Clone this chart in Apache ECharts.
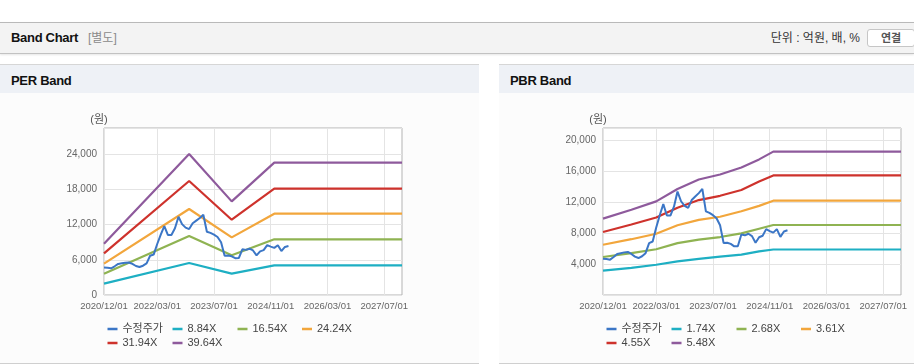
<!DOCTYPE html>
<html><head><meta charset="utf-8">
<script src="https://cdn.jsdelivr.net/npm/echarts@6/dist/echarts.min.js"></script>
<style>
html,body{margin:0;padding:0;width:914px;height:364px;overflow:hidden;background:#fff;font-family:"Liberation Sans","Noto Sans CJK KR",sans-serif;}
#hdr{position:absolute;left:0;top:22px;width:914px;height:30px;background:#f3f3f3;border-top:1px solid #b9b9b9;border-bottom:1px solid #c2c2c2;box-shadow:0 1px 2px rgba(0,0,0,0.10);}
#hdr .ttl{position:absolute;left:11px;top:0;line-height:30px;font-size:13px;font-weight:bold;color:#111;letter-spacing:-0.3px;}
#hdr .sub{position:absolute;left:88px;top:0;line-height:30px;font-size:12px;color:#8a8a8a;}
#hdr .unit{position:absolute;right:54px;top:0;line-height:30px;font-size:12px;color:#333;}
#hdr .btn{position:absolute;left:867px;top:6px;width:46px;height:16px;line-height:16px;border:1px solid #c6c6c6;border-radius:3px;background:#fff;font-size:11px;font-weight:bold;color:#555;text-align:center;}
.panel{position:absolute;top:64px;height:298px;border-top:1px solid #d6d6d6;border-bottom:1px solid #cfcfcf;background:#fcfcfc;}
.panel .ph{height:28px;line-height:31px;background:#eef1f6;padding-left:11px;font-size:13px;font-weight:bold;color:#111;letter-spacing:-0.3px;}
.chart{position:absolute;top:93px;height:270px;}
</style></head>
<body>
<div id="hdr"><span class="ttl">Band Chart</span><span class="sub">[별도]</span><span class="unit">단위 : 억원, 배, %</span><span class="btn">연결</span></div>
<div class="panel" style="left:0;width:479px;"><div class="ph">PER Band</div></div>
<div class="panel" style="left:499px;width:415px;"><div class="ph">PBR Band</div></div>
<div id="c1" class="chart" style="left:0;width:479px;"></div>
<div id="c2" class="chart" style="left:499px;width:415px;"></div>
<script>
// ---- categories (monthly) ----
const months = [];
for (let i = 0; i < 85; i++) {
  const y = 2020 + Math.floor((11 + i) / 12);
  const m = (11 + i) % 12 + 1;
  months.push(y + '/' + String(m).padStart(2, '0') + '/01');
}
const xTickLabels = ['2020/12/01','2022/03/01','2023/07/01','2024/11/01','2026/03/01','2027/07/01'];

// ---- adjusted price (수정주가), monthly from 2020/12 ----
const price = [4690,4650,4560,4900,5300,5400,5500,5550,5300,4950,4770,5000,5400,6700,6900,8700,10300,11750,10250,10250,11400,13350,12100,11500,11250,12250,12700,13150,13700,10800,10600,10300,9900,9000,6700,6750,6600,6280,6300,7800,7700,7900,7600,6750,7450,7650,8500,8250,8050,8500,7500,8200,8350];

// ---- PER band (values at knot months) ----
const perKnotMonths = ['2020/12/01','2022/12/01','2023/12/01','2024/12/01','2027/12/01'];
const per884  = [1930, 5460, 3640, 5060, 5060];
const per1654 = [3640, 10070, 6770, 9500, 9500];
const per2424 = [5350, 14670, 9840, 13880, 13880];
const per3194 = [7110, 19450, 12850, 18140, 18140];
const per3964 = [8760, 24050, 15980, 22580, 22580];
const perNames = ['수정주가','8.84X','16.54X','24.24X','31.94X','39.64X'];
const perYTicks = [0, 6000, 12000, 18000, 24000];

// ---- PBR band (values at knot months) ----
const pbrKnotMonths = ['2020/12/01','2021/08/01','2022/03/01','2022/09/01','2023/03/01','2023/09/01','2024/03/01','2024/08/01','2024/12/01','2027/12/01'];
const pbr174 = [3140, 3500, 3900, 4350, 4650, 4950, 5200, 5620, 5870, 5870];
const pbr268 = [4900, 5400, 5900, 6700, 7150, 7480, 7950, 8550, 9030, 9030];
const pbr361 = [6490, 7200, 7900, 9000, 9700, 10100, 10800, 11500, 12170, 12170];
const pbr455 = [8130, 9100, 10000, 11250, 12250, 12800, 13550, 14650, 15430, 15430];
const pbr548 = [9850, 11000, 12080, 13680, 14900, 15550, 16450, 17500, 18500, 18500];
const pbrNames = ['수정주가','1.74X','2.68X','3.61X','4.55X','5.48X'];
const pbrYTicks = [4000, 8000, 12000, 16000, 20000];

const colors = ['#3b76c6','#1eafc3','#8fb352','#f2a63c','#ce322c','#8e5a9c'];
const FONT = '"Liberation Sans","Noto Sans CJK KR",sans-serif';

function sparse(knotMonths, vals) {
  const arr = months.map(() => null);
  knotMonths.forEach((mo, k) => { arr[months.indexOf(mo)] = vals[k]; });
  return arr;
}
function fmt(v) { return v.toLocaleString('en-US'); }

function makeOption(names, bandSeries, yMax, yInterval, yTicks) {
  const isTick = (i, v) => xTickLabels.indexOf(months[i]) >= 0;
  const series = [{
    name: names[0], type: 'line', data: price, showSymbol: false, z: 5,
    lineStyle: { width: 2, color: colors[0] }, itemStyle: { color: colors[0] }
  }];
  bandSeries.forEach((d, k) => series.push({
    name: names[k + 1], type: 'line', data: d, connectNulls: true, showSymbol: false,
    lineStyle: { width: 2.2, color: colors[k + 1] }, itemStyle: { color: colors[k + 1] }
  }));
  const cols = [107.5, 172.5, 237.5, 302];
  const legends = names.map((n, k) => ({
    data: [n], left: cols[k % 4], top: k < 4 ? 230.5 : 244.5, padding: 0,
    icon: 'rect', itemWidth: 10, itemHeight: 2.5, selectedMode: false,
    textStyle: { fontSize: 11, color: '#444', fontFamily: FONT }
  }));
  return {
    animation: false,
    color: colors,
    grid: { left: 104, top: 35, width: 298, height: 167, show: true, borderColor: '#b3b3b3', borderWidth: 1, backgroundColor: '#ffffff' },
    legend: legends,
    xAxis: {
      type: 'category', data: months, boundaryGap: false,
      axisLine: { show: false }, axisTick: { show: false },
      axisLabel: { interval: isTick, fontSize: 9.5, color: '#666', margin: 7, fontFamily: FONT },
      splitLine: { show: true, interval: isTick, lineStyle: { color: '#e4e4e4', width: 1 } }
    },
    yAxis: {
      type: 'value', min: 0, max: yMax, interval: yInterval,
      name: '(원)', nameLocation: 'end', nameGap: 3,
      nameTextStyle: { fontSize: 11, color: '#555', padding: [0, 10, 0, 0], fontFamily: FONT },
      axisLine: { show: false }, axisTick: { show: false },
      axisLabel: { fontSize: 10, color: '#666', margin: 7, fontFamily: FONT,
        formatter: v => (yTicks.indexOf(v) >= 0 ? fmt(v) : '') },
      splitLine: { show: true, lineStyle: { color: '#e4e4e4', width: 1 } }
    },
    series: series
  };
}

const c1 = echarts.init(document.getElementById('c1'));
c1.setOption(makeOption(perNames,
  [sparse(perKnotMonths, per884), sparse(perKnotMonths, per1654), sparse(perKnotMonths, per2424), sparse(perKnotMonths, per3194), sparse(perKnotMonths, per3964)],
  28500, 6000, perYTicks));
const c2 = echarts.init(document.getElementById('c2'));
c2.setOption(makeOption(pbrNames,
  [sparse(pbrKnotMonths, pbr174), sparse(pbrKnotMonths, pbr268), sparse(pbrKnotMonths, pbr361), sparse(pbrKnotMonths, pbr455), sparse(pbrKnotMonths, pbr548)],
  21550, 4000, pbrYTicks));
</script>
</body></html>
